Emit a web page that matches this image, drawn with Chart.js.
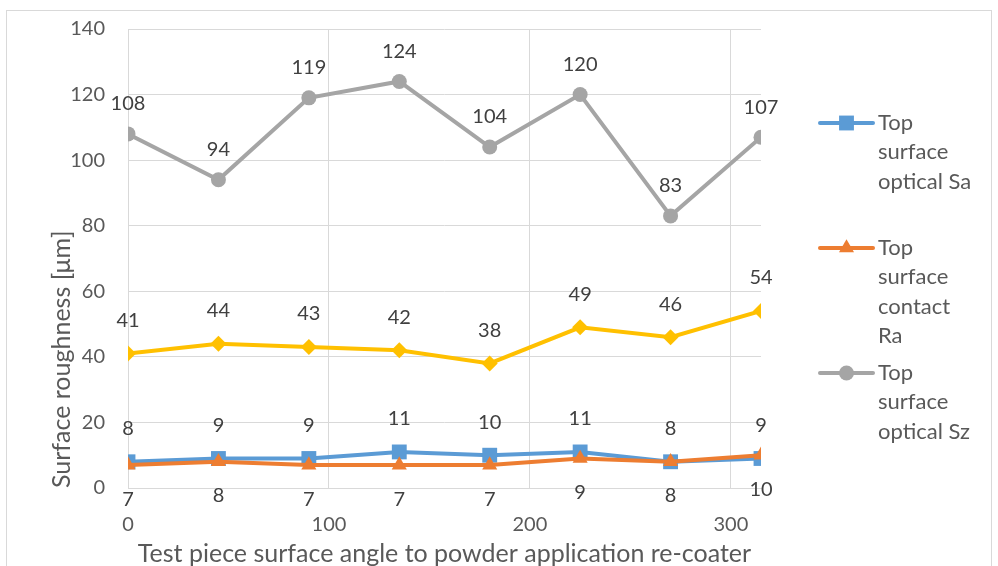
<!DOCTYPE html>
<html>
<head>
<meta charset="utf-8">
<script src="https://cdn.jsdelivr.net/npm/chart.js@4/dist/chart.umd.min.js"></script>
<style>
  html, body { margin: 0; padding: 0; background: #ffffff; }
  #wrap { width: 998px; height: 566px; position: relative; }
</style>
</head>
<body>
<div id="wrap"><canvas id="c" width="998" height="566"></canvas></div>
<script>
// Surface angle of each test piece (degrees to the re-coater)
const angles = [0, 45, 90, 135, 180, 225, 270, 315];

// Roughness results, µm
const opticalSa = [8, 9, 9, 11, 10, 11, 8, 9];
const contactRa = [7, 8, 7, 7, 7, 9, 8, 10];
const opticalSz = [108, 94, 119, 124, 104, 120, 83, 107];
const series4 = [41, 44, 43, 42, 38, 49, 46, 54];

// Axis ticks
const xTickValues = [0, 100, 200, 300];
const yTickValues = [0, 20, 40, 60, 80, 100, 120, 140];

// Legend text, wrapped the way it is laid out in the legend column
const legendSa = ['Top', 'surface', 'optical Sa'];
const legendRa = ['Top', 'surface', 'contact', 'Ra'];
const legendSz = ['Top', 'surface', 'optical Sz'];

const FONT = 'Lato, "Open Sans", sans-serif';
const TEXT = '#595959';
const LABEL = '#404040';
const GRID = '#d9d9d9';

const pts = (ys) => angles.map((a, i) => ({ x: a, y: ys[i] }));

function series(label, values, color, style, radius, order, labelDy, legendLines) {
  return {
    label, data: pts(values),
    borderColor: color, backgroundColor: color,
    borderWidth: 4, pointStyle: style, pointRadius: radius, pointHoverRadius: radius,
    pointBorderWidth: 0, pointBackgroundColor: color,
    order, labelDy, legendLines, tension: 0
  };
}

const datasets = [
  series('Top surface optical Sa', opticalSa, '#5b9bd5', 'rect', 10.5, 3, -33, legendSa),
  series('Top surface contact Ra', contactRa, '#ed7d31', 'triangle', 8.7, 2, 34, legendRa),
  series('Top surface optical Sz', opticalSz, '#a5a5a5', 'circle', 7.5, 1, -30, legendSz),
  series('Series 4', series4, '#ffc000', 'rectRot', 8, 4, -33, null)
];

// Frame around the whole chart
const frame = {
  id: 'frame',
  beforeDraw(chart) {
    const ctx = chart.ctx;
    ctx.save();
    ctx.strokeStyle = GRID;
    ctx.lineWidth = 1;
    ctx.strokeRect(6.5, 10.5, 985, 600);
    ctx.restore();
  }
};

// Value labels next to every point
const valueLabels = {
  id: 'valueLabels',
  afterDatasetsDraw(chart) {
    const ctx = chart.ctx;
    ctx.save();
    ctx.font = '20px ' + FONT;
    ctx.fillStyle = LABEL;
    ctx.textAlign = 'center';
    ctx.textBaseline = 'middle';
    chart.data.datasets.forEach((ds, i) => {
      const meta = chart.getDatasetMeta(i);
      meta.data.forEach((el, j) => {
        ctx.fillText(String(ds.data[j].y), el.x, el.y + ds.labelDy);
      });
    });
    ctx.restore();
  }
};

// Legend column on the right
const sideLegend = {
  id: 'sideLegend',
  afterDraw(chart) {
    const ctx = chart.ctx;
    const x0 = 820, x1 = 873, tx = 878;
    let y = 123;
    ctx.save();
    chart.data.datasets.forEach((ds) => {
      if (!ds.legendLines) return;
      ctx.strokeStyle = ds.borderColor;
      ctx.lineWidth = 4;
      ctx.lineCap = 'round';
      ctx.beginPath();
      ctx.moveTo(x0, y);
      ctx.lineTo(x1, y);
      ctx.stroke();
      ctx.fillStyle = ds.borderColor;
      Chart.helpers.drawPoint(ctx, { pointStyle: ds.pointStyle, radius: ds.pointRadius, borderWidth: 0 }, (x0 + x1) / 2, y);
      ctx.fillStyle = TEXT;
      ctx.font = '22px ' + FONT;
      ctx.textAlign = 'left';
      ctx.textBaseline = 'middle';
      ds.legendLines.forEach((line, k) => ctx.fillText(line, tx, y + k * 29.3));
      y += 125;
    });
    ctx.restore();
  }
};

new Chart(document.getElementById('c'), {
  type: 'line',
  data: { datasets },
  plugins: [frame, valueLabels, sideLegend],
  options: {
    responsive: false,
    animation: false,
    events: [],
    layout: { padding: { left: 30, top: 29, right: 237, bottom: 0 } },
    plugins: { legend: { display: false }, tooltip: { enabled: false } },
    scales: {
      x: {
        type: 'linear', min: 0, max: 315,
        afterBuildTicks: (s) => { s.ticks = xTickValues.map((v) => ({ value: v })); },
        afterFit: (s) => { s.height = 78; },
        grid: { color: GRID, lineWidth: 1, drawTicks: false },
        border: { color: GRID },
        ticks: { font: { family: FONT, size: 20 }, color: TEXT, padding: 25, maxRotation: 0 },
        title: {
          display: true, text: 'Test piece surface angle to powder application re-coater',
          font: { family: FONT, size: 25, lineHeight: 1 }, color: TEXT, padding: { top: 0, bottom: 0 }
        }
      },
      y: {
        min: 0, max: 140,
        afterBuildTicks: (s) => { s.ticks = yTickValues.map((v) => ({ value: v })); },
        // plot area edges come from the layout padding alone
        afterFit: (s) => { s.width = 98; s.paddingTop = 0; s.paddingBottom = 0; },
        grid: { color: GRID, lineWidth: 1, drawTicks: false },
        border: { display: false },
        ticks: { font: { family: FONT, size: 20 }, color: TEXT, padding: 23 },
        title: {
          display: true, text: 'Surface roughness [μm]', align: 'start',
          font: { family: FONT, size: 25, lineHeight: 1 }, color: TEXT, padding: { top: 19, bottom: 0 }
        }
      }
    }
  }
});
</script>
</body>
</html>
